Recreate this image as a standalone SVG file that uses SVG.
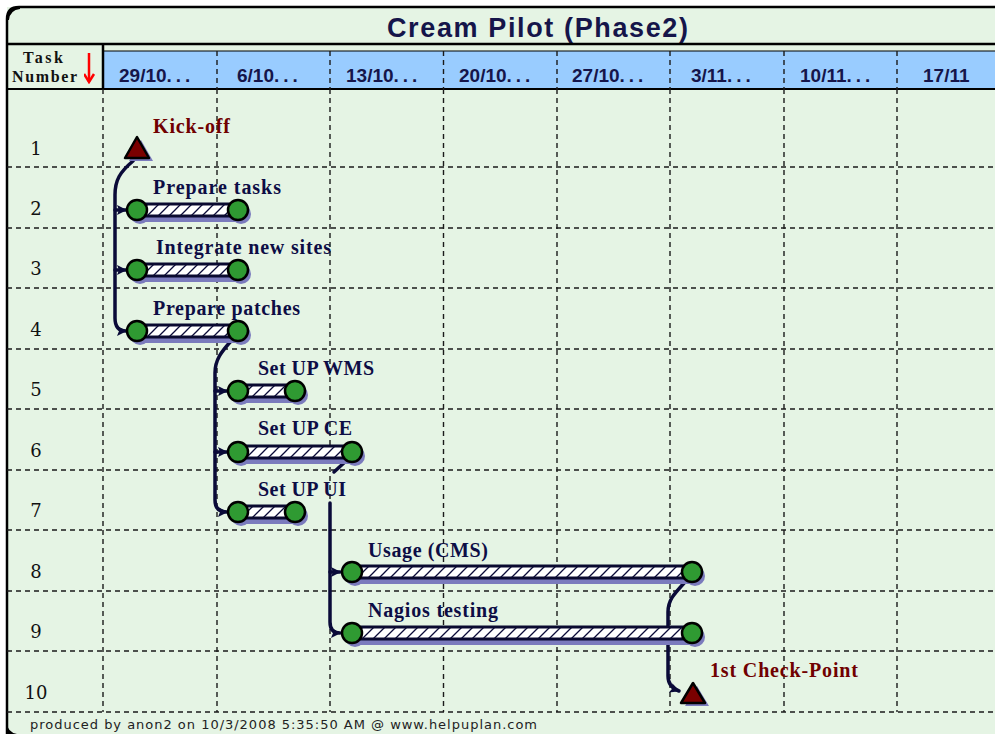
<svg xmlns="http://www.w3.org/2000/svg" width="995" height="734" viewBox="0 0 995 734">
<defs>
<style>
.bg{fill:#e5f4e4}
.grid{stroke:#1a1a1a;stroke-width:1.4;stroke-dasharray:5 4;fill:none}
.num{font-family:"DejaVu Serif",serif;font-size:18px;fill:#111;text-anchor:middle}
.date{font-family:"Liberation Sans",Arial,sans-serif;font-weight:bold;font-size:19px;fill:#15154a}
.lbl{font-family:"Liberation Serif",serif;font-weight:bold;font-size:20px;fill:#0d0d45}
.ms{font-family:"Liberation Serif",serif;font-weight:bold;font-size:20px;fill:#700000}
.bar{fill:url(#hatch);stroke:#0a0a30;stroke-width:3}
.node{fill:#2f9a32;stroke:#000;stroke-width:2.5}
.shd{fill:#7b7bbd}
.tri{fill:#7a0000;stroke:#000;stroke-width:2.5;stroke-linejoin:round}
.con{fill:none;stroke:#0a0a38;stroke-width:3.5;stroke-linecap:round;stroke-linejoin:round}
.hdr{font-family:"Liberation Serif",serif;font-weight:bold;font-size:16px;fill:#111}
</style>
<pattern id="hatch" patternUnits="userSpaceOnUse" width="11" height="11">
<rect width="11" height="11" fill="#ffffff"/>
<path d="M0,11 L11,0 M-3,3 L3,-3 M8,14 L14,8" stroke="#0a0a38" stroke-width="1.3"/>
</pattern>
<marker id="arr" markerUnits="userSpaceOnUse" markerWidth="12" markerHeight="12" refX="9" refY="5" orient="auto">
<path d="M0,0 L10,5 L0,10 L2,5 Z" fill="#0a0a38"/>
</marker>
<marker id="red" markerUnits="userSpaceOnUse" markerWidth="12" markerHeight="12" refX="5" refY="10" orient="0">
<path d="M0,2 L5,10 L10,2" fill="none" stroke="#ff0000" stroke-width="2.5"/>
</marker>
</defs>

<g id="frame">
<rect class="bg" x="0" y="0" width="995" height="734"/>
<rect x="0" y="0" width="995" height="7" fill="#ffffff"/>
<rect x="0" y="0" width="7" height="734" fill="#ffffff"/>
<path d="M7,734 L7,19 Q7,7 19,7 L995,7" fill="none" stroke="#000" stroke-width="2.5"/>
<path d="M7,20 Q7,7 20,7 L20,9 Q10,10 9,20 Z" fill="#000"/>
<path d="M7,722 Q7,732 17,734 L7,734 Z" fill="#000"/>
</g>

<g id="title">
<text x="387" y="37" font-family="'Liberation Sans',Arial,sans-serif" font-weight="bold" font-size="27" fill="#15154a" textLength="301">Cream Pilot (Phase2)</text>
<line x1="7" y1="44" x2="995" y2="44" stroke="#000" stroke-width="2.5"/>
</g>

<g id="header">
<rect x="103" y="51" width="892" height="38" fill="#99ccff"/>
<line x1="103" y1="51" x2="995" y2="51" stroke="#000" stroke-width="1.2"/>
<line x1="7" y1="89" x2="995" y2="89" stroke="#000" stroke-width="2"/>
<line x1="103" y1="44" x2="103" y2="89" stroke="#000" stroke-width="2.5"/>
<path class="grid" d="M217,51 V89 M330,51 V89 M443.5,51 V89 M557,51 V89 M670,51 V89 M784,51 V89 M897,51 V89"/>
<text class="hdr" x="43" y="63" text-anchor="middle" textLength="40">Task</text>
<text class="hdr" x="12" y="82" textLength="65">Number</text>
<line x1="89" y1="53" x2="89" y2="82" stroke="#ff0000" stroke-width="2.5" marker-end="url(#red)"/>
<text class="date" x="119" y="82">29/10<tspan letter-spacing="4">...</tspan></text>
<text class="date" x="237" y="82">6/10<tspan letter-spacing="4">...</tspan></text>
<text class="date" x="346" y="82">13/10<tspan letter-spacing="4">...</tspan></text>
<text class="date" x="459" y="82">20/10<tspan letter-spacing="4">...</tspan></text>
<text class="date" x="572" y="82">27/10<tspan letter-spacing="4">...</tspan></text>
<text class="date" x="691" y="82">3/11<tspan letter-spacing="4">...</tspan></text>
<text class="date" x="800" y="82">10/11<tspan letter-spacing="4">...</tspan></text>
<text class="date" x="923" y="82">17/11</text>
</g>

<g id="grid">
<path class="grid" d="M7,167 H995 M7,228 H995 M7,288 H995 M7,349 H995 M7,409 H995 M7,470 H995 M7,530 H995 M7,591 H995 M7,651 H995 M7,712 H995"/>
<path class="grid" d="M103,89 V712 M217,89 V712 M330,89 V712 M443.5,89 V712 M557,89 V712 M670,89 V712 M784,89 V712 M897,89 V712"/>
</g>

<g id="row-numbers">
<text class="num" x="36" y="155">1</text>
<text class="num" x="36" y="215">2</text>
<text class="num" x="36" y="275">3</text>
<text class="num" x="36" y="336">4</text>
<text class="num" x="36" y="396">5</text>
<text class="num" x="36" y="457">6</text>
<text class="num" x="36" y="517">7</text>
<text class="num" x="36" y="578">8</text>
<text class="num" x="36" y="638">9</text>
<text class="num" x="36" y="699">10</text>
</g>

<g id="connectors">
<path class="con" d="M133,161 C120,172 115,180 115,195 L115,318 Q115,331 126,331" marker-end="url(#arr)"/>
<path class="con" d="M115,210 L126,210" marker-end="url(#arr)"/>
<path class="con" d="M115,270 L126,270" marker-end="url(#arr)"/>
<path class="con" d="M232,340 C221,352 215,360 215,373 L215,500 Q215,512 227,512" marker-end="url(#arr)"/>
<path class="con" d="M215,391 L227,391" marker-end="url(#arr)"/>
<path class="con" d="M215,452 L227,452" marker-end="url(#arr)"/>
<path class="con" d="M346,461 L334,472"/>
<path class="con" d="M330,503 L330,622 Q330,633 340,633" marker-end="url(#arr)"/>
<path class="con" d="M330,572 L340,572" marker-end="url(#arr)"/>
<path class="con" d="M686,581 C674,594 668,600 668,612 L668,676 Q668,687 679,691" marker-end="url(#arr)"/>
</g>

<g id="task1">
<polygon class="shd" points="141,140 129,161 153,161"/>
<polygon class="tri" points="137,137 125,158 149,158"/>
<text class="ms" x="153" y="133" textLength="77">Kick-off</text>
</g>

<g id="task2">
<rect class="shd" x="140" y="207" width="101" height="15"/>
<circle class="shd" cx="140" cy="214" r="10"/><circle class="shd" cx="241" cy="214" r="10"/>
<rect class="bar" x="137" y="204" width="101" height="12"/>
<circle class="node" cx="137" cy="210" r="10"/><circle class="node" cx="238" cy="210" r="10"/>
<text class="lbl" x="153" y="194" textLength="128">Prepare tasks</text>
</g>

<g id="task3">
<rect class="shd" x="140" y="267" width="101" height="15"/>
<circle class="shd" cx="140" cy="274" r="10"/><circle class="shd" cx="241" cy="274" r="10"/>
<rect class="bar" x="137" y="264" width="101" height="12"/>
<circle class="node" cx="137" cy="270" r="10"/><circle class="node" cx="238" cy="270" r="10"/>
<text class="lbl" x="156" y="254" textLength="175">Integrate new sites</text>
</g>

<g id="task4">
<rect class="shd" x="140" y="328" width="101" height="15"/>
<circle class="shd" cx="140" cy="335" r="10"/><circle class="shd" cx="241" cy="335" r="10"/>
<rect class="bar" x="137" y="325" width="101" height="12"/>
<circle class="node" cx="137" cy="331" r="10"/><circle class="node" cx="238" cy="331" r="10"/>
<text class="lbl" x="153" y="315" textLength="147">Prepare patches</text>
</g>

<g id="task5">
<rect class="shd" x="241" y="388" width="57" height="15"/>
<circle class="shd" cx="241" cy="395" r="10"/><circle class="shd" cx="298" cy="395" r="10"/>
<rect class="bar" x="238" y="385" width="57" height="12"/>
<circle class="node" cx="238" cy="391" r="10"/><circle class="node" cx="295" cy="391" r="10"/>
<text class="lbl" x="258" y="375" textLength="116">Set UP WMS</text>
</g>

<g id="task6">
<rect class="shd" x="241" y="449" width="114" height="15"/>
<circle class="shd" cx="241" cy="456" r="10"/><circle class="shd" cx="355" cy="456" r="10"/>
<rect class="bar" x="238" y="446" width="114" height="12"/>
<circle class="node" cx="238" cy="452" r="10"/><circle class="node" cx="352" cy="452" r="10"/>
<text class="lbl" x="258" y="435" textLength="94">Set UP CE</text>
</g>

<g id="task7">
<rect class="shd" x="241" y="509" width="57" height="15"/>
<circle class="shd" cx="241" cy="516" r="10"/><circle class="shd" cx="298" cy="516" r="10"/>
<rect class="bar" x="238" y="506" width="57" height="12"/>
<circle class="node" cx="238" cy="512" r="10"/><circle class="node" cx="295" cy="512" r="10"/>
<text class="lbl" x="258" y="496" textLength="88">Set UP UI</text>
</g>

<g id="task8">
<rect class="shd" x="355" y="569" width="340" height="15"/>
<circle class="shd" cx="355" cy="576" r="10"/><circle class="shd" cx="695" cy="576" r="10"/>
<rect class="bar" x="352" y="566" width="340" height="12"/>
<circle class="node" cx="352" cy="572" r="10"/><circle class="node" cx="692" cy="572" r="10"/>
<text class="lbl" x="368" y="557" textLength="120">Usage (CMS)</text>
</g>

<g id="task9">
<rect class="shd" x="355" y="630" width="340" height="15"/>
<circle class="shd" cx="355" cy="637" r="10"/><circle class="shd" cx="695" cy="637" r="10"/>
<rect class="bar" x="352" y="627" width="340" height="12"/>
<circle class="node" cx="352" cy="633" r="10"/><circle class="node" cx="692" cy="633" r="10"/>
<text class="lbl" x="368" y="617" textLength="130">Nagios testing</text>
</g>

<g id="task10">
<polygon class="shd" points="697,686 685,706 709,706"/>
<polygon class="tri" points="693,683 681,703 705,703"/>
<text class="ms" x="710" y="677" textLength="148">1st Check-Point</text>
</g>

<g id="footer">
<text x="30" y="729" font-family="'DejaVu Sans',Verdana,sans-serif" font-size="13" fill="#222" textLength="507">produced by anon2 on 10/3/2008 5:35:50 AM @ www.helpuplan.com</text>
</g>
</svg>
